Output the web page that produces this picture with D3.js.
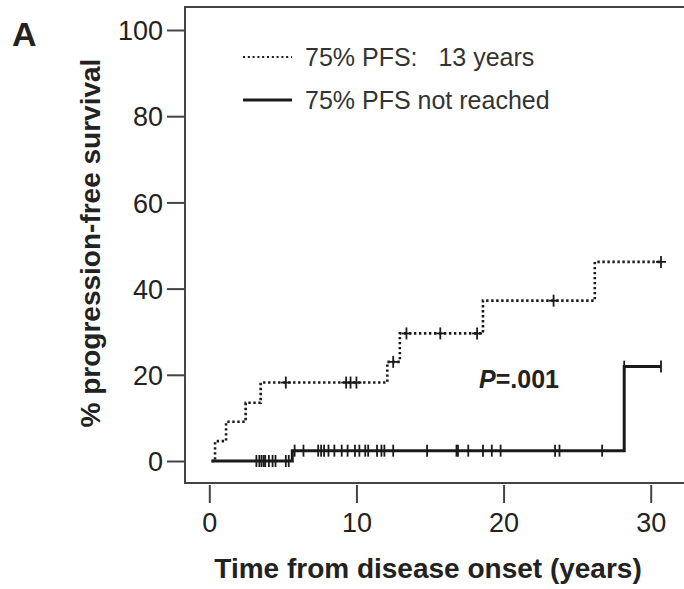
<!DOCTYPE html>
<html>
<head>
<meta charset="utf-8">
<script src="https://cdn.jsdelivr.net/npm/d3@7"></script>
<style>
  html, body { margin: 0; padding: 0; background: #fff; overflow: hidden; width: 684px; height: 589px; }
  svg { display: block; }
  text { font-family: Arial, "Liberation Sans", sans-serif; fill: #222; }
</style>
</head>
<body>
<div id="chart-area"></div>
<script>
// Kaplan-Meier style plot, cumulative % progression

var xTicks = [0, 10, 20, 30];
var yTicks = [0, 20, 40, 60, 80, 100];

// dotted group (75% PFS: 13 years)
var dottedTimes = [0.15, 0.39, 1.14, 2.47, 3.49, 12.1, 12.95, 18.6, 26.2, 30.7];
var dottedPct   = [0, 4.6, 9.1, 13.5, 18.2, 23.0, 29.6, 37.2, 46.2, 46.2];
var dottedCensored = [5.2, 9.3, 9.6, 10.0, 12.5, 13.4, 15.7, 18.2, 23.4, 30.7];

// solid group (75% PFS not reached)
var solidTimes = [0.15, 5.64, 28.2, 30.7];
var solidPct   = [0, 2.4, 21.9, 21.9];
var solidCensored = [3.2, 3.4, 3.55, 3.7, 3.8, 4.05, 4.3, 4.5, 5.2, 5.4,
    5.8, 6.4, 7.4, 7.6, 7.8, 8.1, 8.5, 9.0, 9.4, 9.9, 10.2, 10.6, 10.8,
    11.4, 11.7, 11.9, 12.5, 14.8, 16.8, 16.9, 17.6, 18.6, 19.2, 19.8,
    23.5, 23.8, 26.7, 28.2, 30.7];

var legendLabels = ["75% PFS:   13 years", "75% PFS not reached"];

var width = 684, height = 589;

var svg = d3.select("#chart-area")
    .append("svg")
    .attr("width", width)
    .attr("height", height)
    .style("overflow", "hidden");

// Scales
var x = d3.scaleLinear().domain([0, 30]).range([209.3, 650.7]);
var y = d3.scaleLinear().domain([0, 100]).range([461, 30]);

// frame: top, left and bottom only (right side runs off the picture)
svg.append("path")
    .attr("d", "M" + (width + 40) + ",7H185V483H" + (width + 40))
    .attr("fill", "none")
    .attr("stroke", "#444")
    .attr("stroke-width", 2);

// Y axis
var yAxis = svg.append("g")
    .attr("transform", "translate(185,0)")
    .call(d3.axisLeft(y).tickValues(yTicks).tickSize(18).tickPadding(4));
yAxis.select(".domain").remove();
yAxis.selectAll("line").attr("stroke", "#444").attr("stroke-width", 2);
yAxis.selectAll("text")
    .attr("font-size", "27px")
    .attr("font-family", "Arial, 'Liberation Sans', sans-serif")
    .attr("dy", "0.36em")
    .style("fill", "#222");

// X axis
var xAxis = svg.append("g")
    .attr("transform", "translate(0,485)")
    .call(d3.axisBottom(x).tickValues(xTicks).tickSize(18).tickPadding(10));
xAxis.select(".domain").remove();
xAxis.selectAll("line").attr("stroke", "#444").attr("stroke-width", 2);
xAxis.selectAll("text")
    .attr("font-size", "27px")
    .attr("font-family", "Arial, 'Liberation Sans', sans-serif")
    .style("fill", "#222");

// Axis labels
svg.append("text")
    .attr("x", 428)
    .attr("y", 578)
    .attr("text-anchor", "middle")
    .attr("font-size", "28px")
    .attr("font-weight", "bold")
    .text("Time from disease onset (years)");

svg.append("text")
    .attr("transform", "rotate(-90)")
    .attr("x", -243)
    .attr("y", 100)
    .attr("text-anchor", "middle")
    .attr("font-size", "28px")
    .attr("font-weight", "bold")
    .text("% progression-free survival");

svg.append("text")
    .attr("x", 12)
    .attr("y", 46)
    .attr("font-size", "34px")
    .attr("font-weight", "bold")
    .text("A");

// step value at a given time
function stepValue(times, vals, t) {
    var i = d3.bisectRight(times, t) - 1;
    return vals[Math.max(i, 0)];
}

var line = d3.line()
    .curve(d3.curveStepAfter)
    .x(function(d){ return x(d[0]); })
    .y(function(d){ return y(d[1]); });

// solid curve
svg.append("path")
    .attr("d", line(d3.zip(solidTimes, solidPct)))
    .attr("fill", "none")
    .attr("stroke", "#1a1a1a")
    .attr("stroke-width", 3);

svg.selectAll(".solidCensor")
    .data(solidCensored)
    .enter()
    .append("line")
    .attr("class", "solidCensor")
    .attr("x1", function(d){ return x(d); })
    .attr("x2", function(d){ return x(d); })
    .attr("y1", function(d){ return y(stepValue(solidTimes, solidPct, d)) - 6; })
    .attr("y2", function(d){ return y(stepValue(solidTimes, solidPct, d)) + 6; })
    .attr("stroke", "#1a1a1a")
    .attr("stroke-width", 1.8);

// dotted curve
svg.append("path")
    .attr("d", line(d3.zip(dottedTimes, dottedPct)))
    .attr("fill", "none")
    .attr("stroke", "#1a1a1a")
    .attr("stroke-width", 2.6)
    .attr("stroke-dasharray", "2.4 2.6");

var plus = svg.selectAll(".dotCensor")
    .data(dottedCensored)
    .enter()
    .append("g")
    .attr("class", "dotCensor")
    .attr("transform", function(d){
        return "translate(" + x(d) + "," + y(stepValue(dottedTimes, dottedPct, d)) + ")";
    });
plus.append("line")
    .attr("x1", 0).attr("x2", 0).attr("y1", -6).attr("y2", 6)
    .attr("stroke", "#1a1a1a").attr("stroke-width", 1.8);
plus.append("line")
    .attr("x1", -5).attr("x2", 5).attr("y1", 0).attr("y2", 0)
    .attr("stroke", "#1a1a1a").attr("stroke-width", 1.8);

// P value
var pText = svg.append("text")
    .attr("x", 479)
    .attr("y", 388)
    .attr("font-size", "25px")
    .attr("font-weight", "bold");
pText.append("tspan").attr("font-style", "italic").text("P");
pText.append("tspan").text("=.001");

// Legend
var legend = svg.selectAll(".legend")
    .data(legendLabels)
    .enter()
    .append("g")
    .attr("class", "legend")
    .attr("transform", function(d, i){ return "translate(243," + (57 + i * 43) + ")"; });

legend.append("line")
    .attr("x1", 0).attr("x2", 49)
    .attr("y1", 0).attr("y2", 0)
    .attr("stroke", "#1a1a1a")
    .attr("stroke-width", function(d, i){ return i === 0 ? 1.8 : 3; })
    .attr("stroke-dasharray", function(d, i){ return i === 0 ? "2 2.8" : null; });

legend.append("text")
    .attr("x", 62)
    .attr("y", 9)
    .attr("font-size", "25px")
    .style("white-space", "pre")
    .style("fill", "#333")
    .text(function(d){ return d; });
</script>
</body>
</html>
